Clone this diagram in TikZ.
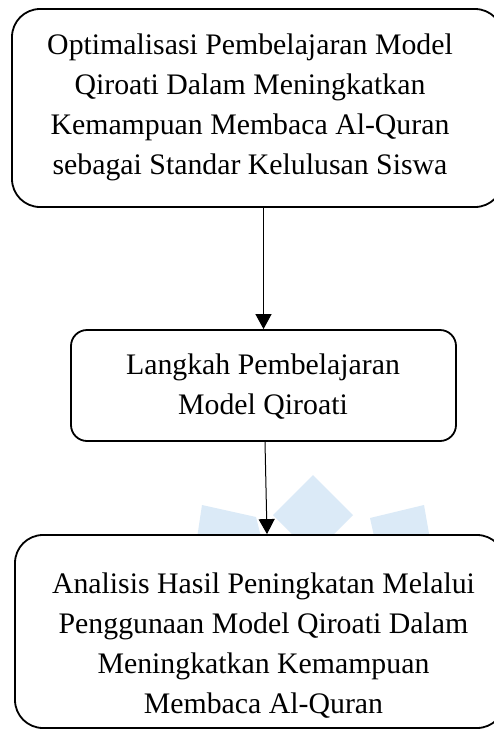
\documentclass[tikz,border=0pt]{standalone}
\usepackage{fontspec}
\setmainfont{Liberation Serif}
\usetikzlibrary{arrows.meta}
\definecolor{wmblue}{RGB}{219,234,247}
\tikzset{
  boxshape/.style={draw=black, line width=1.8pt, fill=white, inner sep=0pt},
  boxtext/.style={align=center, inner sep=0pt, font=\fontsize{29.8}{40}\selectfont},
  conn/.style={draw=black, line width=1pt, -{Triangle[width=16pt,length=15pt]}},
  wmark/.style={fill=wmblue, draw=none}
}
\begin{document}
\begin{tikzpicture}[x=1pt,y=-1pt]
\useasboundingbox (0,0) rectangle (494,729);
\clip (0,0) rectangle (494,729);
\fill[white] (0,0) rectangle (494,729);
% watermark
\path[wmark] (313,475) -- (353,515) -- (313,555) -- (273,515) -- cycle;
\path[wmark] (202,505) -- (256,517) -- (263,545) -- (196,545) -- cycle;
\path[wmark] (370,518) -- (424,505) -- (431,545) -- (376,545) -- cycle;
% boxes
\node[boxshape, rounded corners=28pt, minimum width=491pt, minimum height=198pt] (top) at (257.5,108) {};
\node[boxshape, rounded corners=16pt, minimum width=385pt, minimum height=111pt] (mid) at (263.5,385.5) {};
\node[boxshape, rounded corners=28pt, minimum width=490pt, minimum height=193pt] (bot) at (260,631.5) {};
% texts
\node[boxtext] (toptxt) at (250,107.2) {Optimalisasi Pembelajaran Model\\Qiroati Dalam Meningkatkan\\Kemampuan Membaca Al-Quran\\sebagai Standar Kelulusan Siswa};
\node[boxtext] (midtxt) at (263,386.6) {Langkah Pembelajaran\\Model Qiroati};
\node[boxtext] (bottxt) at (263.5,645.6) {Analisis Hasil Peningkatan Melalui\\Penggunaan Model Qiroati Dalam\\Meningkatkan Kemampuan\\Membaca Al-Quran};
% connectors
\draw[conn] (mid.north |- top.south) -- (mid.north);
\draw[conn] ([xshift=1.5pt]mid.south) -- ([xshift=7pt]bot.north);
\end{tikzpicture}
\end{document}
